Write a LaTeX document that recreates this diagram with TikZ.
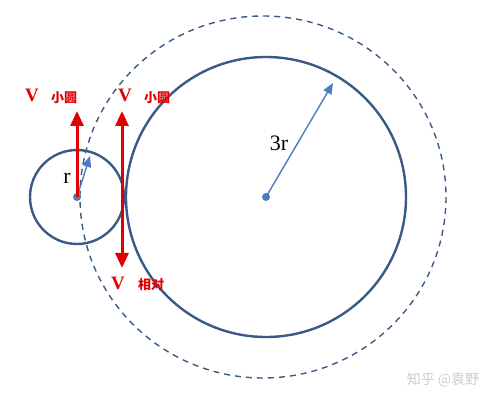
\documentclass[tikz,border=0pt]{standalone}
\usepackage{fontspec}
\setmainfont{Liberation Serif}
\newfontfamily\cjk{Noto Sans CJK SC}
\usepackage{xcolor}
\definecolor{ringblue}{HTML}{3A5A85}
\definecolor{arrblue}{HTML}{4A7CC0}
\definecolor{vred}{HTML}{E00000}
\usetikzlibrary{arrows.meta}

\begin{document}
\begin{tikzpicture}[x=1pt,y=-1pt,
  ring/.style={draw=ringblue,line width=2.4pt},
  radius arrow/.style={draw=arrblue,line width=1.4pt,-{Triangle[length=11pt,width=9pt]}},
  vel/.style={draw=vred,line width=3pt},
  vtip/.tip={Triangle[length=15pt,width=13pt]},
  vlab/.style={text=vred,font=\bfseries\fontsize{19}{19}\selectfont,inner sep=0pt},
  sublab/.style={text=vred,font=\cjk\bfseries\fontsize{13}{13}\selectfont,inner sep=0pt}]
\useasboundingbox (0,0) rectangle (504,403);
%%%%% Circles %%%%%
\coordinate (big) at (266,197);
\coordinate (small) at (77,197);
\draw[ringblue,dashed,line width=1.4pt,dash pattern=on 6pt off 5pt] (263,197) ellipse [x radius=183,y radius=181];
\draw[ring] (big) circle [radius=140];
\draw[ring] (small) circle [radius=47];
\fill[arrblue] (big) circle [radius=4];
\fill[arrblue] (small) circle [radius=4];
%%%%% Radii %%%%%
\coordinate (bigtip) at (333,83);
\coordinate (smalltip) at (90,156);
\draw[radius arrow] (big) -- (bigtip);
\draw[radius arrow] (small) -- (smalltip);
\node (lbig) at (279,143) {\fontsize{22}{22}\selectfont 3r};
\node (lsmall) at (67,178) {\fontsize{22}{22}\selectfont r};
%%%%% Velocities %%%%%
\coordinate (vtop1) at (77,111);
\coordinate (vtop2) at (122,111);
\coordinate (vbot2) at (122,268);
\draw[vel,-{vtip}] (small) -- (vtop1);
\draw[vel,{vtip}-{vtip}] (vbot2) -- (vtop2);
\node[vlab] (v1) at (32,95) {V};
\node[sublab] (s1) at (64,98) {小圆};
\node[vlab] (v2) at (125,95) {V};
\node[sublab] (s2) at (157,98) {小圆};
\node[vlab] (v3) at (118,283) {V};
\node[sublab] (s3) at (151,285) {相对};
%%%%% Mark %%%%%
\node[text=gray!40,font=\cjk\fontsize{14}{14}\selectfont] (mark) at (443,380) {知乎 @袁野};
\end{tikzpicture}
\end{document}
